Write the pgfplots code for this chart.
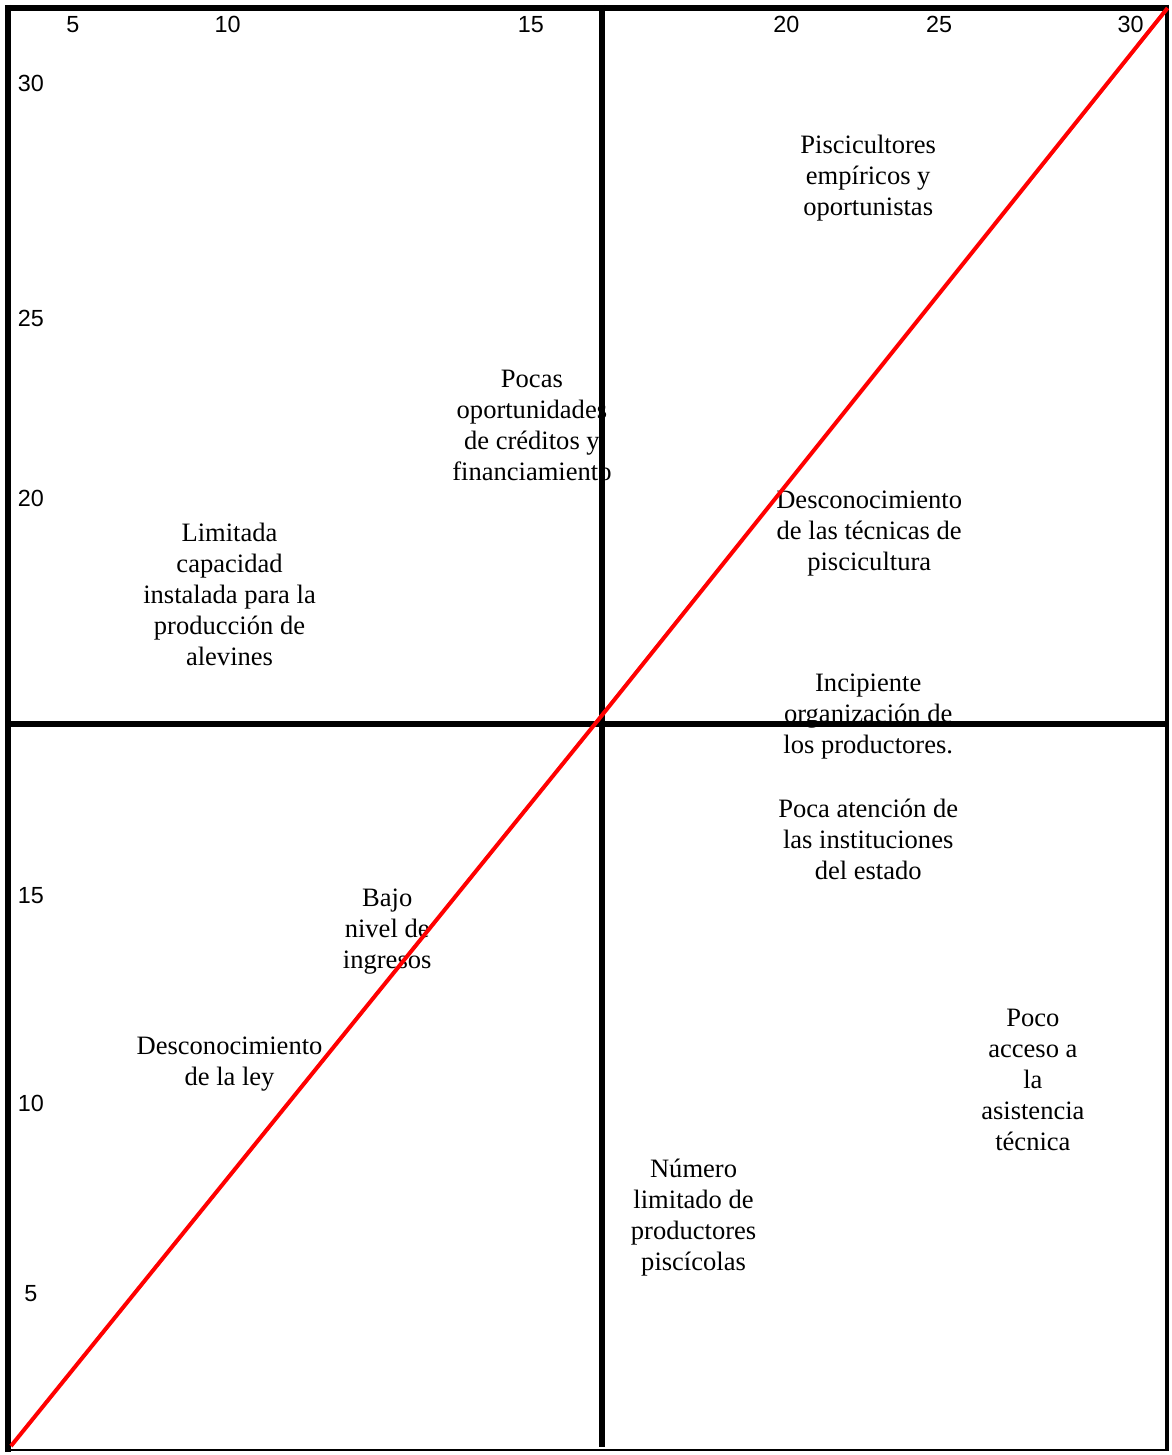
\documentclass[border=0pt]{standalone}
\usepackage{pgfplots}
\pgfplotsset{compat=1.18}
\usepackage{fontspec}
\setmainfont{Liberation Serif}
\newfontfamily\arialfont{Liberation Sans}
\tikzset{lbl/.style={align=center, font=\fontsize{13.3}{15.5}\selectfont, inner sep=0pt, yshift=-1.6pt, xshift=1pt},
         tck/.style={font=\arialfont\fontsize{11.7}{13}\selectfont, inner sep=0pt}}
\begin{document}
\begin{tikzpicture}
\begin{axis}[
  scale only axis, width=585.5pt, height=727.5pt,
  xmin=0, xmax=1171, ymin=0, ymax=1455, y dir=reverse,
  axis line style={draw=none}, xtick=\empty, ytick=\empty,
  clip=false,
]
% labels (drawn below the lines)
\node[lbl] at (axis cs:868,175) {Piscicultores\\empíricos y\\oportunistas};
\node[lbl] at (axis cs:531,423.5) {Pocas\\oportunidades\\de créditos y\\financiamiento};
\node[lbl] at (axis cs:869,531) {Desconocimiento\\de las técnicas de\\piscicultura};
\node[lbl] at (axis cs:228,592.5) {Limitada\\capacidad\\instalada para la\\producción de\\alevines};
\node[lbl] at (axis cs:868,715) {Incipiente\\organización de\\los productores.};
\node[lbl] at (axis cs:868,838) {Poca atención de\\las instituciones\\del estado};
\node[lbl] at (axis cs:386,930) {Bajo\\nivel de\\ingresos};
\node[lbl] at (axis cs:228,1063.5) {Desconocimiento\\de la ley};
\node[lbl] at (axis cs:1033,1079) {Poco\\acceso a\\la\\asistencia\\técnica};
\node[lbl] at (axis cs:693,1217) {Número\\limitado de\\productores\\piscícolas};
% tick labels
\node[tck] at (axis cs:73,25) {5};
\node[tck] at (axis cs:228,25) {10};
\node[tck] at (axis cs:532,25) {15};
\node[tck] at (axis cs:788,25) {20};
\node[tck] at (axis cs:941,25) {25};
\node[tck] at (axis cs:1133,25) {30};
\node[tck] at (axis cs:31,84) {30};
\node[tck] at (axis cs:31,319) {25};
\node[tck] at (axis cs:31,499) {20};
\node[tck] at (axis cs:31,897) {15};
\node[tck] at (axis cs:31,1106) {10};
\node[tck] at (axis cs:31,1296) {5};
% frame
\addplot[black, line width=3pt, forget plot] coordinates {(5,8) (1171,8)};
\addplot[black, line width=3pt, forget plot] coordinates {(8,5) (8,1455)};
\addplot[black, line width=2pt, forget plot] coordinates {(1169,5) (1169,1453)};
\addplot[black, line width=0.75pt, forget plot] coordinates {(8,1453) (1171,1453)};
% cross
\addplot[black, line width=3pt, forget plot] coordinates {(603,5) (603,1450)};
\addplot[black, line width=3pt, forget plot] coordinates {(11,725) (1167,725)};
% diagonal
\addplot[red, line width=2pt, forget plot] coordinates {(11,1449) (599,722) (1170,8)};
\end{axis}
\end{tikzpicture}
\end{document}
